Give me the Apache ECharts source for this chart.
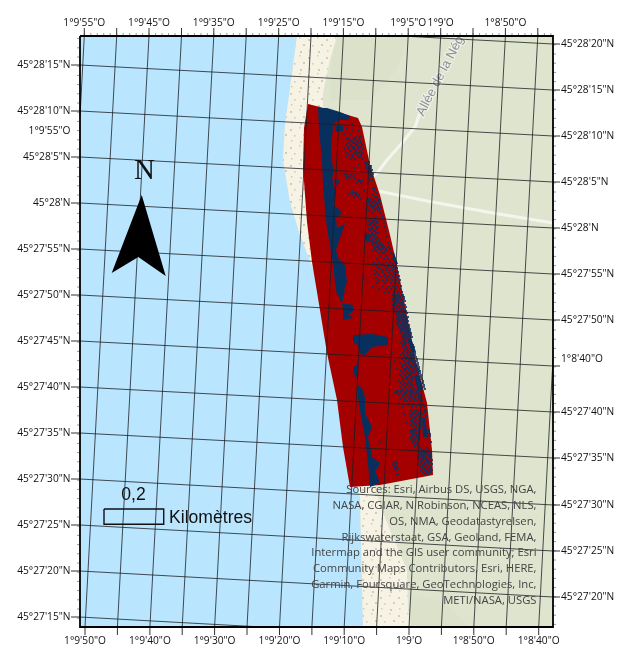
<!DOCTYPE html>
<html><head><meta charset="utf-8">
<style>html,body{margin:0;padding:0;background:#fff}#c{width:637px;height:667px}</style>
<script src="https://cdn.jsdelivr.net/npm/echarts@6/dist/echarts.min.js"></script>
</head><body><div id="c"></div>
<script>
const frame = {l:80, r:553, t:36, b:627};
const latLeftLabels = ['45°28\'15"N','45°28\'10"N','45°28\'5"N','45°28\'N','45°27\'55"N','45°27\'50"N','45°27\'45"N','45°27\'40"N','45°27\'35"N','45°27\'30"N','45°27\'25"N','45°27\'20"N','45°27\'15"N'];
const latLeftY = [65,111,157,203,249,295,341,387,433,479,525,571,617];
const latRightLabels = ['45°28\'20"N','45°28\'15"N','45°28\'10"N','45°28\'5"N','45°28\'N','45°27\'55"N','45°27\'50"N','','45°27\'40"N','45°27\'35"N','45°27\'30"N','45°27\'25"N','45°27\'20"N'];
const latRightY = [44,90,136,182,228,274,320,366,412,458,505,551,597];
const lonTopX = [84.3,116.7,149,181.5,213.8,246.2,278.7,311,343.4,375.8,408.2,440.7,473,505.4,537.8,570.2];
const lonBottomX = [52.8,85,117.4,149.9,182.2,214.6,247,279.5,311.9,344.2,376.6,409,441.4,473.8,506.2,538.7];
const lonTopLabels = ['1°9\'55"O','','1°9\'45"O','','1°9\'35"O','','1°9\'25"O','','1°9\'15"O','','1°9\'5"O','1°9\'O','','1°8\'50"O','',''];
const lonBottomLabels = ['','1°9\'50"O','','1°9\'40"O','','1°9\'30"O','','1°9\'20"O','','1°9\'10"O','','1°9\'O','','1°8\'50"O','','1°8\'40"O'];
const sideLonLabels = [['1°9\'55"O',131,'left'],['1°8\'40"O',359,'right']];
const attribution = ['Sources: Esri, Airbus DS, USGS, NGA,','NASA, CGIAR, N Robinson, NCEAS, NLS,','OS, NMA, Geodatastyrelsen,','Rijkswaterstaat, GSA, Geoland, FEMA,','Intermap and the GIS user community; Esri','Community Maps Contributors, Esri, HERE,','Garmin, Foursquare, GeoTechnologies, Inc,','METI/NASA, USGS'];

const waterArea = [[80,36],[297,36],[285,125],[283,160],[290,202],[300,235],[312,266],[330,320],[352,470],[360,497],[363,627],[80,627]];
const sandArea = [[297,36],[337,36],[330,60],[323,93],[323,107],[340,300],[372,480],[383,513],[393,537],[407,570],[408,603],[410,627],[363,627],[360,497],[352,470],[330,320],[312,266],[300,235],[290,202],[283,160],[285,125]];
const landShades = [[[338,36],[410,36],[396,70],[372,100],[330,100],[332,60]],[[412,627],[409,595],[440,600],[470,627]]];
const roadNorth = [[370,178],[378,172],[387,160],[402,143],[415,127],[420,113]];
const roadEast = [[370,188],[378,191],[427,201],[493,213],[553,223]];
const rasterOutline = [[308,104],[320,107],[358,118],[362,127],[370,165],[380,195],[390,235],[397,265],[403,295],[415,357],[427,403],[432,450],[433,475],[380,485],[350,487],[343,447],[337,400],[327,353],[317,292],[312,262],[307,222],[303,168],[304,128]];
const channelBlobs = [
 [[318,108],[327,108],[340,112],[350,116],[348,120],[340,120],[334,123],[333,128],[331,145],[332,162],[334,172],[332,178],[334,185],[336,195],[333,205],[338,208],[342,213],[336,218],[337,228],[345,224],[340,238],[336,250],[338,258],[345,265],[347,282],[342,295],[337,295],[335,282],[333,265],[331,252],[327,228],[325,208],[323,185],[322,162],[319,128]],
 [[338,290],[345,290],[342,303],[353,305],[353,312],[348,314],[353,318],[343,320],[343,307],[339,297]],
 [[353,335],[372,334],[388,337],[388,345],[372,347],[365,355],[360,354],[358,345],[353,342]],
 [[353,368],[358,363],[358,377],[355,377]],
 [[358,385],[362,388],[365,397],[365,413],[372,427],[368,437],[372,457],[380,463],[378,468],[375,470],[380,483],[370,487],[368,463],[365,437],[361,417],[358,397]],
 [[335,125],[343,126],[343,131],[336,132]],
 [[365,234],[369,233],[370,241],[366,242]],
 [[407,339],[411,338],[416,352],[412,353]],
 [[414,376],[419,374],[423,390],[418,391]],
 [[422,418],[425,418],[428,437],[423,437]],
 [[392,253],[394,253],[398,264],[395,264]]
];
const speckRows = [
[124,352,353],[128,347],[131,353,358],[134,344,350],[137,356,360],[139,347,349,354,355,359],[141,350,352,357,360],[143,348,353,355,358,361],[145,346,351,356,357,362],[147,349,352,354,359,361],[149,345,348,353,355,358,363],[151,350,351,356,360],[153,347,354,357,359,362],[155,349,352,356,361],[157,346,353,358,360],[159,351,355,362],[162,365,367,369],[164,358,366,368],[166,366,370,371],[168,354,367,369,371],[170,368,370,372],
[172,369,371],[174,345,347,351,354,370,373],[176,346,349,352,371,372],[178,347,350,355,369],[180,337,358,360,370,373],[181,335,339,359,362],[183,336,338,357,361],[185,337],[188,372,375],[191,352,364,374],[193,350,353,355,357,376],[195,348,352,356,359,373],[197,354,358,375,377],[199,361,368,371,378],
[200,367,369,371,374,378,380],[202,369,372,373,376,379],[204,368,371,375,377,380],[206,370,372,374,378],[208,367,373,376,379,381],[210,369,375,378],[213,372,380],[216,376,383],[219,370,375,382],[221,369,372,374,377],[223,371,373,376,378,384],[225,368,370,374,375],[227,372,376,378,385],[229,369,371,373,377],[231,370,374,375,386],[233,372,376,378],[235,371,373,375],[237,370,374,377,387],[239,372,375,378],[241,371,373,376,379],[243,373,375,377,380,388],[245,372,376,379,381,383],[247,374,377,378,382,384,389],[249,375,379,380,383,386,390],[251,373,376,381,385,387],[253,378,382,384,391],[256,380,386],[259,377,384,388,392],[262,374,379,386,390],[264,373,381,383,389,393,396],[266,376,385,388,391,394],[268,378,380,387,392,395,397],[270,374,383,386,390,393],[272,377,382,389,394,396,398],[274,375,379,385,391,395],[276,381,384,388,393,396,399],[278,364,376,386,390,394,398],[280,379,383,387,392,396,400],[283,377,385,391,395,399],[286,372,382,388,393,397,401],[289,379,386,391,396,400],[292,384,389,394,398,402],
[295,393,395,397,399,402,403],[297,394,396,398,400,403,404],[299,392,395,397,399,401,404],[301,393,396,398,402,405],[303,395,396,399,401,403],[305,392,394,397,400,402,405],[307,395,398,399,403,406],[309,393,396,400,402,405],[311,394,398,401,404,406],[313,396,399,403,407],[315,397,399,401,403,405],[317,398,400,402,404,406,408],[319,397,399,401,403,405,407],[321,398,400,402,404,406,408],[323,397,399,403,405,407],[325,398,401,402,404,406,409],[327,399,400,403,405,407,409],[329,401,403,404,406,408,410],[331,400,402,405,407,409,410],[333,401,404,406,408,410,411],[335,403,405,407,409,411],[337,402,404,406,408,410,412],[339,404,406],[341,403,405],[343,401,404,406],[345,403,405,413],[347,402,406,414],[349,404,407],[351,405,408],[353,392,403,407,410,415],[355,401,404,408,411,413,415],[357,405,407,410,412,414,416],[359,402,406,409,411,413,417],[361,395,404,408,410,412,415,417],[363,400,406,409,413,415,418],[365,403,405,408,411,414,416,418],[367,402,407,410,412,415,417,419],[369,397,404,406,409,413,416,418,419],[371,401,405,408,411,414,417,419,420],[373,403,407,410,412,415,418,420],[375,400,405,409,411,421],[377,402,406,408,412,421],[379,404,407,410,413,422],[381,399,403,409,412,423],[383,401,405,408,411,423],[385,403,407,410,413,424],[387,400,405,409,412,424],[389,402,406,411,414,425],
[391,396,398,401,403,407,409,411,413,416,418],[393,395,397,400,404,406,410,412,415,417,419],[395,399,402,405,408,411,414,418,420],[397,403,406,410,413,416,419,421],[399,401,405,409,412,415,418,421],[401,404,407,411,414,417,420,422],[404,399,409,413,419,423],[407,403,412,416,421,424],[410,411,414,417,420,424,426],[412,412,415,418,421,425],[414,404,410,413,416,419,422],[416,411,414,417,420,426],[418,412,415,419,421],[420,410,413,416,420],[422,406,412,415,418,421],[424,411,414,417,420],[426,413,416,419,421],[428,415,418,420],[430,410,412,414,416,419,429],[432,411,413,415,418,429],[434,412,414,417,419,430],[436,410,413,416,418,430],[438,411,414,417,419],[440,412,415,418],[442,380,413,416,431],[444,414,417],[446,415,418],[448,420,426],[450,418,422,424,428],[452,419,421,423,425,427,430],[454,420,422,424,426,428,431],[456,418,421,423,425,429,431],[458,419,422,424,427,430],[460,420,423,426,428,432],[462,394,396,421,424,427,429,431],[464,393,397,419,422,425,428,432],[466,394,396,420,423,426,430],[468,395,398,422,425,428,431],[470,396,421,424,427,430,432],[472,423,426,429,431],[474,397,398,425,428]
];
const northArrow = [[141.7,195],[111.7,273],[138.3,257],[165.7,276]];
const scaleBar = [[104,509],[163.7,509],[163.7,524.3],[104,524.3],[104,509]];

// Sand stipple pattern
const tile = document.createElement('canvas'); tile.width = 18; tile.height = 18;
(function(){const g = tile.getContext('2d'); g.fillStyle = '#f6f3e4'; g.fillRect(0,0,18,18);
 g.fillStyle = '#d3ccb6';
 [[2,3,2],[11,1,1.5],[6,9,1.6],[15,8,2],[3,14,1.5],[12,15,2]].forEach(d=>{g.fillRect(d[0],d[1],d[2],d[2]);});})();

function latSeg(yL,yR){ // clip a parallel to the frame
  const s=(yR-yL)/(frame.r-frame.l); let a=[frame.l,yL], b=[frame.r,yR];
  if(yL<frame.t) a=[frame.l+(frame.t-yL)/s,frame.t];
  if(yR>frame.b) b=[frame.l+(frame.b-yL)/s,frame.b];
  return [a,b];
}
function lonSeg(xT,xB){
  const s=(xT-xB)/(frame.b-frame.t); let a=[xT,frame.t], b=[xB,frame.b];
  if(xT>frame.r) a=[frame.r,frame.b-(frame.r-xB)/s];
  if(xB<frame.l) b=[frame.l,frame.t+(xT-frame.l)/s];
  return [a,b];
}
const gridSegs=[];
gridSegs.push(latSeg(19,latRightY[0]));
latLeftY.forEach((y,i)=>gridSegs.push(latSeg(y,latRightY[i+1]!==undefined?latRightY[i+1]:y+26)));
lonTopX.forEach((x,i)=>gridSegs.push(lonSeg(x,lonBottomX[i])));

const tickSegs=[], minorSegs=[];
latLeftY.forEach(y=>tickSegs.push([[71,y],[frame.l,y]]));
latRightY.forEach(y=>tickSegs.push([[frame.r,y],[560,y]]));
lonTopX.forEach(x=>{if(x<frame.r)tickSegs.push([[x,28],[x,frame.t]]);});
lonBottomX.forEach(x=>{if(x>frame.l)tickSegs.push([[x,frame.b],[x,635]]);});
for(let x=frame.l+4.3;x<frame.r-2;x+=6.48)minorSegs.push([[x,33],[x,frame.t]]);
for(let y=frame.t+2.6;y<frame.b;y+=9.2){minorSegs.push([[77,y],[frame.l,y]]);}
for(let y=frame.t+8.8;y<frame.b;y+=9.2){minorSegs.push([[frame.r,y],[556,y]]);}

const labels=[];
const tickFont='10.2px "Open Sans"', tickInk='#111';
latLeftLabels.forEach((t,i)=>labels.push({t,x:70.5,y:latLeftY[i],a:'right',f:tickFont,c:tickInk}));
latRightLabels.forEach((t,i)=>{if(t)labels.push({t,x:561,y:latRightY[i],a:'left',f:tickFont,c:tickInk});});
lonTopLabels.forEach((t,i)=>{if(t)labels.push({t,x:lonTopX[i],y:23.5,a:'center',f:tickFont,c:tickInk});});
lonBottomLabels.forEach((t,i)=>{if(t)labels.push({t,x:lonBottomX[i],y:641,a:'center',f:tickFont,c:tickInk});});
labels.push({t:sideLonLabels[0][0],x:70.5,y:sideLonLabels[0][1],a:'right',f:tickFont,c:tickInk});
labels.push({t:sideLonLabels[1][0],x:561,y:sideLonLabels[1][1],a:'left',f:tickFont,c:tickInk});
labels.push({t:'0,2',x:133.5,y:495,a:'center',f:'17.6px "Liberation Sans"',c:'#111'});
labels.push({t:'Kilomètres',x:169,y:518,a:'left',f:'17.6px "Liberation Sans"',c:'#111'});
labels.push({t:'N',x:144.5,y:171,a:'center',f:'29px "Liberation Serif"',c:'#111'});
const attribLabels=attribution.map((t,i)=>({t,x:536.5,y:490+i*15.8,a:'right',f:'11.25px "Open Sans"',c:'#444'}));

function polys(name,list,style,z){return {type:'custom',name,coordinateSystem:'cartesian2d',z,silent:true,
  data:list.map((_,i)=>[i]),
  renderItem:(p,api)=>({type:'polygon',shape:{points:list[api.value(0)].map(q=>api.coord(q))},style})};}
function segs(name,list,style,z){return {type:'custom',name,coordinateSystem:'cartesian2d',z,silent:true,
  data:list.map((_,i)=>[i]),
  renderItem:(p,api)=>({type:'polyline',shape:{points:list[api.value(0)].map(q=>api.coord(q))},style:Object.assign({fill:null},style)})};}
function texts(name,list,z){return {type:'custom',name,coordinateSystem:'cartesian2d',z,silent:true,
  data:list.map((_,i)=>[i]),
  renderItem:(p,api)=>{const d=list[api.value(0)],c=api.coord([d.x,d.y]);
    return {type:'text',x:c[0],y:c[1],rotation:d.r||0,style:{text:d.t,font:d.f,fill:d.c,textAlign:d.a,textVerticalAlign:'middle',stroke:d.h||null,lineWidth:d.h?2.5:0}};}};}
const speckData=[];
speckRows.forEach(r=>r.slice(1).forEach(x=>speckData.push([x,r[0]])));

const chart=echarts.init(document.getElementById('c'),null,{renderer:'canvas'});
chart.setOption({
 animation:false,backgroundColor:'#fff',
 grid:{left:0,right:0,top:0,bottom:0},
 xAxis:{type:'value',min:0,max:637,show:false},
 yAxis:{type:'value',min:0,max:667,inverse:true,show:false},
 series:[
  polys('land',[[[frame.l,frame.t],[frame.r,frame.t],[frame.r,frame.b],[frame.l,frame.b]]],{fill:'#dee4cd'},1),
  polys('landShade',landShades,{fill:'#dce1ca'},2),
  polys('water',[waterArea],{fill:'#b9e5fe'},3),
  polys('sand',[sandArea],{fill:{image:tile,repeat:'repeat'}},3),
  segs('roads',[roadNorth,roadEast],{stroke:'#f4f6ee',lineWidth:3.2,lineJoin:'round'},4),
  texts('roadName',[{t:'Allée de la Nég',x:420,y:115,a:'left',f:'13px "Liberation Sans"',c:'#8d8d98',h:'#eef0e4',r:1.09}],5),
  polys('raster',[rasterOutline],{fill:'#a50000'},6),
  polys('channel',channelBlobs,{fill:'#08305f'},7),
  {type:'scatter',name:'specks',z:8,silent:true,symbol:'rect',symbolSize:2,itemStyle:{color:'#08305f'},data:speckData},
  segs('graticule',gridSegs,{stroke:'rgba(25,30,35,.78)',lineWidth:1},10),
  polys('arrow',[northArrow],{fill:'#000'},11),
  segs('scale',[scaleBar],{stroke:'#111',lineWidth:1.4},11),
  segs('minorTicks',minorSegs,{stroke:'#9a9a9a',lineWidth:1},12),
  segs('ticks',tickSegs,{stroke:'#333',lineWidth:1},12),
  segs('frame',[[[frame.l,frame.t],[frame.r,frame.t],[frame.r,frame.b],[frame.l,frame.b],[frame.l,frame.t]]],{stroke:'#000',lineWidth:1.8},13),
  texts('labels',labels,14),
  texts('attribution',attribLabels,15)
 ]
});
</script></body></html>
